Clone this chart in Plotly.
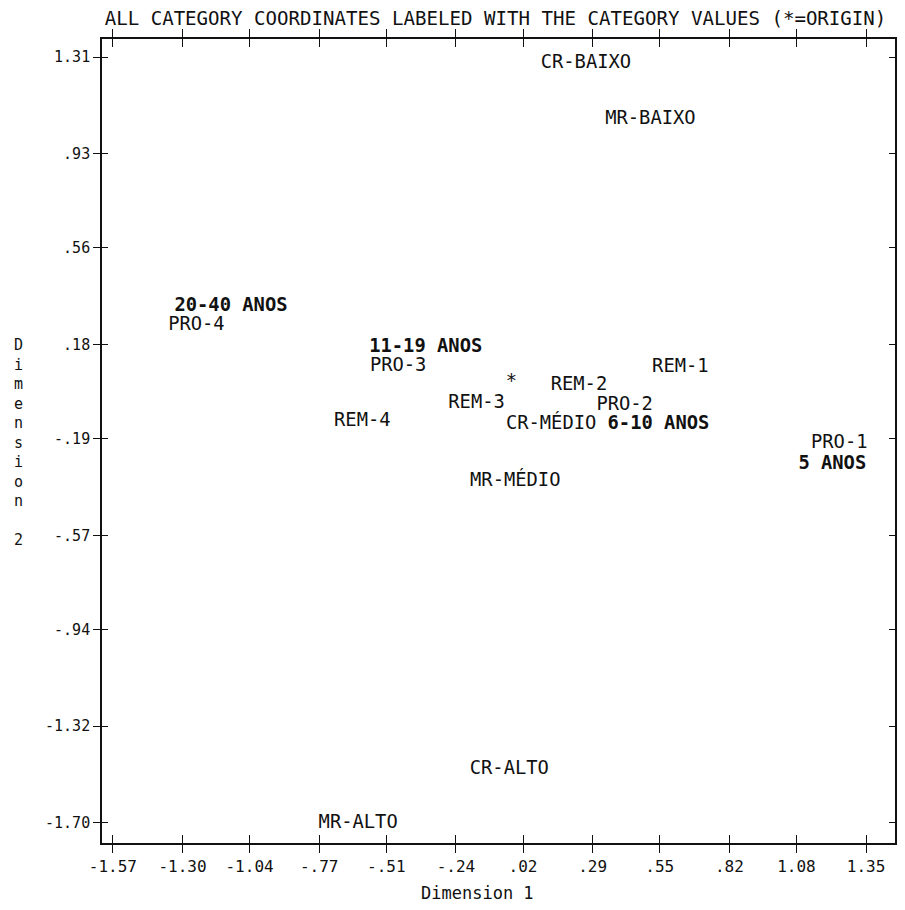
import plotly.graph_objects as go

# --- Data ---
cat_labels = ["CR-BAIXO", "MR-BAIXO", "PRO-4", "PRO-3", "REM-1", "*", "REM-2",
              "REM-3", "PRO-2", "REM-4", "CR-MÉDIO", "PRO-1", "MR-MÉDIO",
              "CR-ALTO", "MR-ALTO"]
cat_dim1 = [0.264, 0.514, -1.246, -0.464, 0.630, -0.025, 0.237,
            -0.160, 0.414, -0.603, 0.129, 1.246, -0.010,
            -0.033, -0.619]
cat_dim2 = [1.286, 1.067, 0.254, 0.093, 0.089, 0.031, 0.019,
            -0.052, -0.060, -0.123, -0.134, -0.209, -0.358,
            -1.488, -1.700]

age_labels = ["20-40 ANOS", "11-19 ANOS", "6-10 ANOS", "5 ANOS"]
age_dim1 = [-1.112, -0.357, 0.545, 1.219]
age_dim2 = [0.329, 0.168, -0.134, -0.291]

x_tick_text = ["-1.57", "-1.30", "-1.04", "-.77", "-.51", "-.24", ".02",
               ".29", ".55", ".82", "1.08", "1.35"]
y_tick_text = ["1.31", ".93", ".56", ".18", "-.19", "-.57", "-.94",
               "-1.32", "-1.70"]
x_tick_vals = [float(s) for s in x_tick_text]
y_tick_vals = [float(s) for s in y_tick_text]

x_range = [-1.612, 1.462]
y_range = [-1.779, 1.381]

MONO = "DejaVu Sans Mono"
INK = "#111111"

fig = go.Figure()
fig.add_trace(go.Scatter(
    x=cat_dim1, y=cat_dim2, text=cat_labels, mode="text",
    textposition="middle center",
    textfont=dict(family=MONO, size=18.8, color=INK),
    hoverinfo="text", showlegend=False))
fig.add_trace(go.Scatter(
    x=age_dim1, y=age_dim2, text=age_labels, mode="text",
    textposition="middle center",
    textfont=dict(family=MONO, size=18.8, color=INK, weight="bold"),
    hoverinfo="text", showlegend=False))
# empty trace so the overlay axes (inside ticks) are drawn
fig.add_trace(go.Scatter(x=[None], y=[None], xaxis="x2", yaxis="y2",
                         mode="markers", showlegend=False, hoverinfo="skip"))

axis_common = dict(showgrid=False, zeroline=False, color=INK)

fig.update_layout(
    width=897, height=902,
    margin=dict(l=94, r=1, t=31, b=67),
    paper_bgcolor="white", plot_bgcolor="white",
    font=dict(family=MONO, color=INK),
    title=dict(text="ALL CATEGORY COORDINATES LABELED WITH THE CATEGORY VALUES (*=ORIGIN)",
               x=(496 - 100) / 798, xref="paper", xanchor="center",
               y=1 - 10 / 902, yref="container", yanchor="middle",
               font=dict(family=MONO, size=19.1, color=INK)),
    xaxis=dict(range=x_range, tickmode="array", tickvals=x_tick_vals,
               ticktext=x_tick_text, ticks="outside", ticklen=8, tickwidth=1.3,
               tickcolor=INK, showline=True, linewidth=1.6,
               linecolor=INK, mirror="ticks",
               tickfont=dict(family=MONO, size=16, color=INK),
               **axis_common),
    yaxis=dict(range=y_range, tickmode="array", tickvals=y_tick_vals,
               ticktext=y_tick_text, ticks="outside", ticklen=7, tickwidth=1.3,
               tickcolor=INK, showline=True, linewidth=1.6,
               linecolor=INK, mirror="ticks",
               tickfont=dict(family=MONO, size=15, color=INK),
               **axis_common),
    xaxis2=dict(range=x_range, overlaying="x", anchor="y2", tickmode="array",
                tickvals=x_tick_vals, ticks="inside", ticklen=8, tickwidth=1.3,
                tickcolor=INK, showticklabels=False, showline=False,
                mirror="ticks", **axis_common),
    yaxis2=dict(range=y_range, overlaying="y", anchor="x2", tickmode="array",
                tickvals=y_tick_vals, ticks="inside", ticklen=6, tickwidth=1.3,
                tickcolor=INK, showticklabels=False, showline=False,
                mirror="ticks", **axis_common),
    annotations=[
        dict(text="Dimension 1", xref="paper", yref="paper",
             x=(478 - 100) / 798, y=(843 - 893) / 804,
             xanchor="center", yanchor="middle", showarrow=False,
             font=dict(family=MONO, size=17, color=INK)),
        dict(text="<br>".join(list("Dimension") + ["", "2"]),
             xref="paper", yref="paper",
             x=(16 - 100) / 798, y=(843 - 442) / 804,
             xanchor="center", yanchor="middle", showarrow=False,
             align="center",
             font=dict(family=MONO, size=15, color=INK)),
    ],
)

fig.write_html("out.html")
